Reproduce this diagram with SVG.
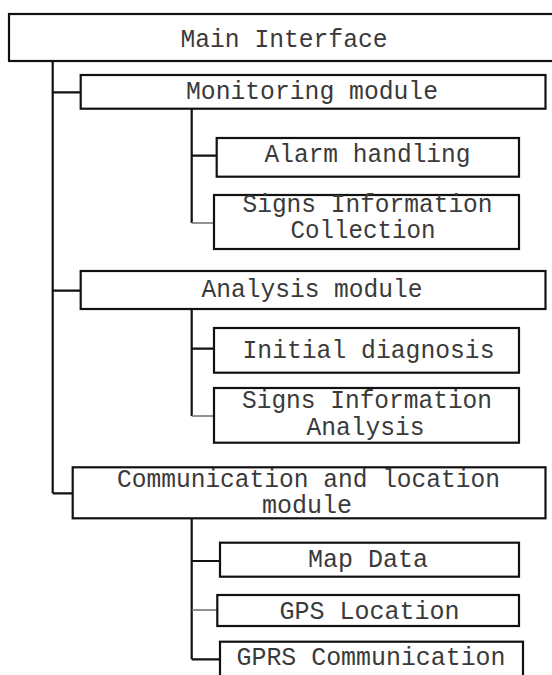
<svg xmlns="http://www.w3.org/2000/svg" width="552" height="675" viewBox="0 0 552 675">
<style>
.box{fill:#fff;stroke:#111;stroke-width:2.2}
.ln{fill:none;stroke:#111;stroke-width:2.2}
.lt{fill:none;stroke:#777;stroke-width:1.6}
text{font-family:"Liberation Mono","DejaVu Sans Mono",monospace;font-size:25px;fill:#3a3a3a;text-anchor:middle}
</style>
<rect width="552" height="675" fill="#fff"/>
<g id="connectors">
<path class="ln" d="M52.7 61V493.3M52.7 92.3H80.7M52.7 290.7H80.7M52.7 493.3H72.7"/>
<path class="ln" d="M191.7 108.7V223M191.7 155.7H216.7"/>
<path class="lt" d="M191.7 223H214"/>
<path class="ln" d="M191.7 309V416M191.7 348.7H214"/>
<path class="lt" d="M191.7 416H214"/>
<path class="ln" d="M191.7 518.3V659.3M191.7 561H220M191.7 659.3H220"/>
<path class="lt" d="M191.7 610H217.3"/>
</g>
<g id="main"><rect class="box" x="9" y="14" width="560" height="47"/><text x="284" y="46.5" font-size="27" textLength="207" lengthAdjust="spacingAndGlyphs">Main Interface</text></g>
<g id="monitoring"><rect class="box" x="80.7" y="75" width="464.8" height="33.7"/><text x="312" y="99" textLength="252" lengthAdjust="spacingAndGlyphs">Monitoring module</text></g>
<g id="alarm"><rect class="box" x="216.7" y="138" width="302.3" height="38.7"/><text x="367.5" y="161.5" textLength="206" lengthAdjust="spacingAndGlyphs">Alarm handling</text></g>
<g id="signs-collection"><rect class="box" x="214" y="195" width="305" height="54"/><text x="367.5" y="211.5" font-size="22" textLength="250" lengthAdjust="spacingAndGlyphs">Signs Information</text><text x="363" y="238" font-size="22" textLength="145" lengthAdjust="spacingAndGlyphs">Collection</text></g>
<g id="analysis"><rect class="box" x="80.7" y="271" width="464.8" height="38"/><text x="312" y="297.3" textLength="221" lengthAdjust="spacingAndGlyphs">Analysis module</text></g>
<g id="initial"><rect class="box" x="214" y="328" width="305" height="44.7"/><text x="368.5" y="357.5" font-size="27" textLength="252" lengthAdjust="spacingAndGlyphs">Initial diagnosis</text></g>
<g id="signs-analysis"><rect class="box" x="214" y="388" width="305" height="54.7"/><text x="367" y="408.3" textLength="250" lengthAdjust="spacingAndGlyphs">Signs Information</text><text x="365.5" y="435" textLength="118" lengthAdjust="spacingAndGlyphs">Analysis</text></g>
<g id="communication"><rect class="box" x="72.7" y="467.3" width="472.8" height="51"/><text x="308.5" y="486.5" textLength="383" lengthAdjust="spacingAndGlyphs">Communication and location</text><text x="307" y="513.3" textLength="90" lengthAdjust="spacingAndGlyphs">module</text></g>
<g id="map"><rect class="box" x="220" y="542.7" width="299" height="34"/><text x="368" y="566.7" textLength="120" lengthAdjust="spacingAndGlyphs">Map Data</text></g>
<g id="gps"><rect class="box" x="217.3" y="595" width="301.7" height="31"/><text x="369.5" y="619.3" textLength="180" lengthAdjust="spacingAndGlyphs">GPS Location</text></g>
<g id="gprs"><rect class="box" x="220" y="641.7" width="303" height="45"/><text x="371" y="665" textLength="269" lengthAdjust="spacingAndGlyphs">GPRS Communication</text></g>
</svg>
